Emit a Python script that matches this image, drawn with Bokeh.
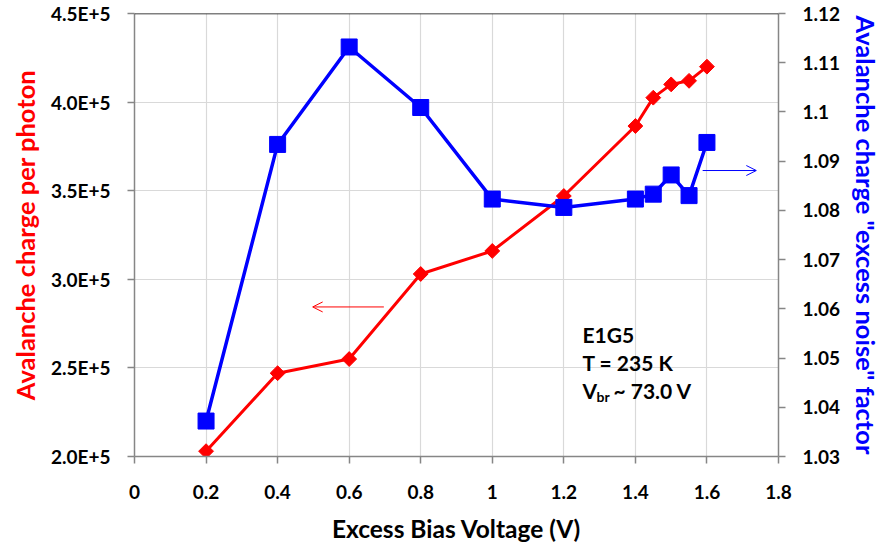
import math
from bokeh.plotting import figure
from bokeh.models import (Range1d, LinearAxis, FixedTicker, Span, Arrow, OpenHead, Label)
from bokeh.embed import file_html
from bokeh.resources import INLINE

# ---- data ----
bias_v = [0.2, 0.4, 0.6, 0.8, 1.0, 1.2, 1.4, 1.45, 1.5, 1.55, 1.6]
charge = [2.03e5, 2.47e5, 2.55e5, 3.03e5, 3.16e5, 3.47e5, 3.865e5, 4.025e5, 4.10e5, 4.12e5, 4.20e5]
noise = [1.0372, 1.0934, 1.1132, 1.1009, 1.0823, 1.0806, 1.0823, 1.0833, 1.0872, 1.0830, 1.0938]

x_ticks = [0, 0.2, 0.4, 0.6, 0.8, 1.0, 1.2, 1.4, 1.6, 1.8]
x_labels = ["0", "0.2", "0.4", "0.6", "0.8", "1", "1.2", "1.4", "1.6", "1.8"]
left_ticks = [2.0e5, 2.5e5, 3.0e5, 3.5e5, 4.0e5, 4.5e5]
left_labels = ["2.0E+5", "2.5E+5", "3.0E+5", "3.5E+5", "4.0E+5", "4.5E+5"]
right_ticks = [1.03, 1.04, 1.05, 1.06, 1.07, 1.08, 1.09, 1.1, 1.11, 1.12]
right_labels = ["1.03", "1.04", "1.05", "1.06", "1.07", "1.08", "1.09", "1.1", "1.11", "1.12"]

FONT = "Lato"
AX_GRAY = "#868686"
GRID = "#d9d9d9"
RED = "#ff0000"
BLUE = "#0000ff"

p = figure(width=884, height=552, output_backend="svg", toolbar_location=None,
           x_range=Range1d(0, 1.8), y_range=Range1d(2.0e5, 4.5e5),
           min_border_left=134, min_border_right=104, min_border_top=13, min_border_bottom=96)
p.outline_line_color = None
p.background_fill_color = "white"
p.extra_y_ranges = {"right": Range1d(1.03, 1.12)}

# axes styling
xa = p.xaxis[0]
xa.ticker = FixedTicker(ticks=x_ticks)
xa.major_label_overrides = dict(zip(x_ticks, x_labels))
xa.axis_label = "Excess Bias Voltage (V)"
xa.axis_label_text_color = "black"

ya = p.yaxis[0]
ya.ticker = FixedTicker(ticks=left_ticks)
ya.major_label_overrides = dict(zip(left_ticks, left_labels))
ya.axis_label = "Avalanche charge per photon"
ya.axis_label_text_color = RED

ra = LinearAxis(y_range_name="right", ticker=FixedTicker(ticks=right_ticks),
                axis_label='Avalanche charge "excess noise" factor')
ra.major_label_overrides = dict(zip(right_ticks, right_labels))
ra.axis_label_text_color = BLUE
p.add_layout(ra, "right")

for ax in (xa, ya, ra):
    ax.axis_line_color = AX_GRAY
    ax.axis_line_width = 1.5
    ax.major_tick_line_color = AX_GRAY
    ax.major_tick_line_width = 1.5
    ax.major_tick_out = 7
    ax.major_tick_in = 0
    ax.minor_tick_line_color = None
    ax.major_label_text_font = FONT
    ax.major_label_text_font_style = "bold"
    ax.major_label_text_font_size = "19px"
    ax.major_label_text_color = "black"
    ax.axis_label_text_font = FONT
    ax.axis_label_text_font_style = "bold"

xa.axis_label_text_font_size = "24.5px"
ya.axis_label_text_font_size = "25.5px"
ra.axis_label_text_font_size = "25.5px"

xa.major_label_standoff = 21
xa.axis_label_standoff = 12
ya.major_label_standoff = 17
ya.axis_label_standoff = 8
ra.major_label_standoff = 17
ra.axis_label_standoff = 8

p.xgrid.grid_line_color = GRID
p.ygrid.grid_line_color = GRID
p.xgrid.grid_line_width = 1.2
p.ygrid.grid_line_width = 1.2

p.add_layout(Span(location=4.5e5, dimension="width", line_color="black", line_width=1.5))

# series
p.line(bias_v, charge, line_color=RED, line_width=3)
p.scatter(bias_v, charge, marker="square", angle=math.pi / 4, size=10.5,
          fill_color=RED, line_color=RED)
p.line(bias_v, noise, line_color=BLUE, line_width=3.5, y_range_name="right")
p.scatter(bias_v, noise, marker="square", size=16, fill_color=BLUE, line_color=BLUE,
          y_range_name="right")

# arrows
p.add_layout(Arrow(x_start=0.697, y_start=2.844e5, x_end=0.498, y_end=2.844e5,
                   line_color=RED, line_width=1,
                   end=OpenHead(size=10, line_color=RED, line_width=1)))
p.add_layout(Arrow(x_start=1.588, y_start=1.0881, x_end=1.738, y_end=1.0881,
                   y_range_name="right", line_color=BLUE, line_width=1,
                   end=OpenHead(size=10, line_color=BLUE, line_width=1)))

# annotation text
lab_kw = dict(text_font=FONT, text_font_style="bold", text_font_size="21px",
              text_color="black", text_baseline="middle", text_align="left")
p.add_layout(Label(x=1.252, y=2.69e5, text="E1G5", **lab_kw))
p.add_layout(Label(x=1.252, y=2.53e5, text="T = 235 K", **lab_kw))
p.add_layout(Label(x=1.252, y=2.372e5, text="V", **lab_kw))
p.add_layout(Label(x=1.252, y=2.372e5, x_offset=14, y_offset=-6, text="br",
                   text_font=FONT, text_font_style="bold", text_font_size="14px",
                   text_color="black", text_baseline="middle", text_align="left"))
p.add_layout(Label(x=1.252, y=2.372e5, x_offset=31, text="~ 73.0 V", **lab_kw))

open("out.html", "w").write(file_html(p, INLINE))
